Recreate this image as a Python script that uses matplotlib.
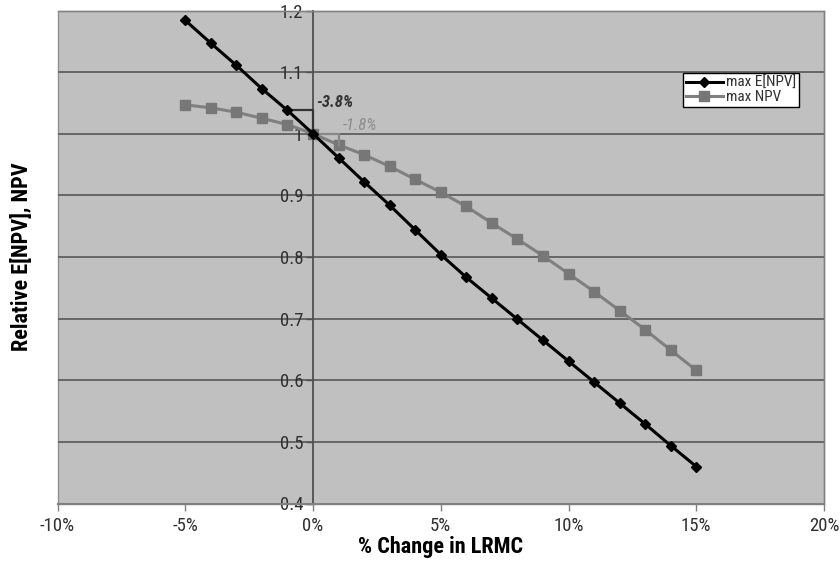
import matplotlib
matplotlib.use("Agg")
import matplotlib.pyplot as plt
from matplotlib import font_manager
from matplotlib.patches import Rectangle

# pick a narrow sans face if available
def pick_font(cands):
    for c in cands:
        try:
            font_manager.findfont(font_manager.FontProperties(family=c), fallback_to_default=False)
            return c
        except Exception:
            continue
    return "DejaVu Sans"

FONT = pick_font(["Liberation Sans Narrow", "Arial Narrow", "Roboto Condensed", "Liberation Sans"])
plt.rcParams["font.family"] = [FONT, "DejaVu Sans"]

# data
change_pct = [-5, -4, -3, -2, -1, 0, 1, 2, 3, 4, 5, 6, 7, 8, 9, 10, 11, 12, 13, 14, 15]
max_enpv = [1.184, 1.147, 1.111, 1.073, 1.038, 1.000, 0.961, 0.922, 0.884, 0.844, 0.804,
            0.767, 0.733, 0.699, 0.665, 0.631, 0.597, 0.563, 0.529, 0.494, 0.460]
max_npv = [1.047, 1.042, 1.035, 1.025, 1.015, 1.000, 0.982, 0.966, 0.947, 0.926, 0.905,
           0.882, 0.855, 0.829, 0.802, 0.773, 0.744, 0.713, 0.682, 0.649, 0.616]
series_names = ["max E[NPV]", "max NPV"]
x_ticks = [-10, -5, 0, 5, 10, 15, 20]
x_ticklabels = ["-10%", "-5%", "0%", "5%", "10%", "15%", "20%"]
y_ticks = [0.4, 0.5, 0.6, 0.7, 0.8, 0.9, 1.0, 1.1, 1.2]
y_ticklabels = ["0.4", "0.5", "0.6", "0.7", "0.8", "0.9", "1", "1.1", "1.2"]
note_enpv = "-3.8%"
note_npv = "-1.8%"

W, H = 840, 567
fig = plt.figure(figsize=(W / 100, H / 100), dpi=100)
fig.patch.set_facecolor("white")
ax = fig.add_axes([57.5 / W, 1 - 503.5 / H, (824 - 57.5) / W, (503.5 - 10.5) / H])
ax.set_facecolor("#c0c0c0")
ax.set_xlim(-10, 20)
ax.set_ylim(0.4, 1.2)

# plot-area border
for s in ["top", "right"]:
    ax.spines[s].set_color("#808080")
    ax.spines[s].set_linewidth(1.0)
ax.spines["bottom"].set_color("#808080")
ax.spines["bottom"].set_linewidth(1.5)
ax.add_patch(Rectangle((0, 0), 1, 1, transform=ax.transAxes, fill=False,
                       edgecolor="#909090", linewidth=1.0, zorder=0.5, clip_on=False))

# value axis crosses at 0%
ax.spines["left"].set_position(("data", 0))
ax.spines["left"].set_color("#505050")
ax.spines["left"].set_linewidth(1.3)
ax.spines["left"].set_zorder(1.5)

ax.set_xticks(x_ticks)
ax.set_xticklabels(x_ticklabels)
ax.set_yticks(y_ticks)
ax.set_yticklabels(y_ticklabels)
ax.tick_params(axis="x", direction="out", length=5, width=1, color="#808080",
               labelsize=13.5, labelcolor="#303030", pad=5)
ax.tick_params(axis="y", direction="out", length=5, width=1, color="#505050",
               labelsize=13.5, labelcolor="#303030", pad=2)

ax.yaxis.grid(True, color="#666666", linewidth=1.4, zorder=1)
ax.set_axisbelow(True)

ax.plot(change_pct, max_enpv, color="black", linewidth=2.2, marker="D",
        markersize=5.5, markerfacecolor="black", markeredgecolor="black",
        label=series_names[0], zorder=4)
ax.plot(change_pct, max_npv, color="#808080", linewidth=2.2, marker="s",
        markersize=6.5, markerfacecolor="#777777", markeredgecolor="#777777",
        label=series_names[1], zorder=3)

# step brackets around the 0% point
i0 = change_pct.index(0)
ax.plot([change_pct[i0 - 1], 0, 0], [max_enpv[i0 - 1], max_enpv[i0 - 1], max_enpv[i0]],
        color="#333333", linewidth=1.6, zorder=3.5)
ax.plot([0, change_pct[i0 + 1], change_pct[i0 + 1]], [max_npv[i0], max_npv[i0], max_npv[i0 + 1]],
        color="#888888", linewidth=1.6, zorder=3.2)
ax.text(0.12, 1.0515, note_enpv, fontsize=12, fontweight="bold", fontstyle="italic",
        color="#333333", va="center", ha="left", zorder=5)
ax.text(1.17, 1.0126, note_npv, fontsize=12, fontstyle="italic",
        color="#8c8c8c", va="center", ha="left", zorder=5)

ax.set_xlabel("% Change in LRMC", fontsize=16, fontweight="bold")
ax.set_ylabel("Relative E[NPV], NPV", fontsize=16, fontweight="bold")
ax.yaxis.set_label_coords(22 / W, 1 - 257 / H, transform=fig.transFigure)
ax.xaxis.set_label_coords(441 / W, 1 - 547 / H, transform=fig.transFigure)
ax.xaxis.label.set_va("center")
ax.yaxis.label.set_va("center")

leg = ax.legend(loc="upper left",
                bbox_to_anchor=((683 - 57.5) / (824 - 57.5), 1 - (73 - 10.5) / 493),
                frameon=True, fancybox=False, fontsize=11, handlelength=2.4,
                handletextpad=0.2, borderpad=0.2, labelspacing=0.0, borderaxespad=0)
leg.get_frame().set_edgecolor("black")
leg.get_frame().set_linewidth(1.0)
leg.get_frame().set_facecolor("white")
leg.get_frame().set_alpha(1)
for t in leg.get_texts():
    t.set_color("#303030")

fig.savefig("out.png", dpi=100)
